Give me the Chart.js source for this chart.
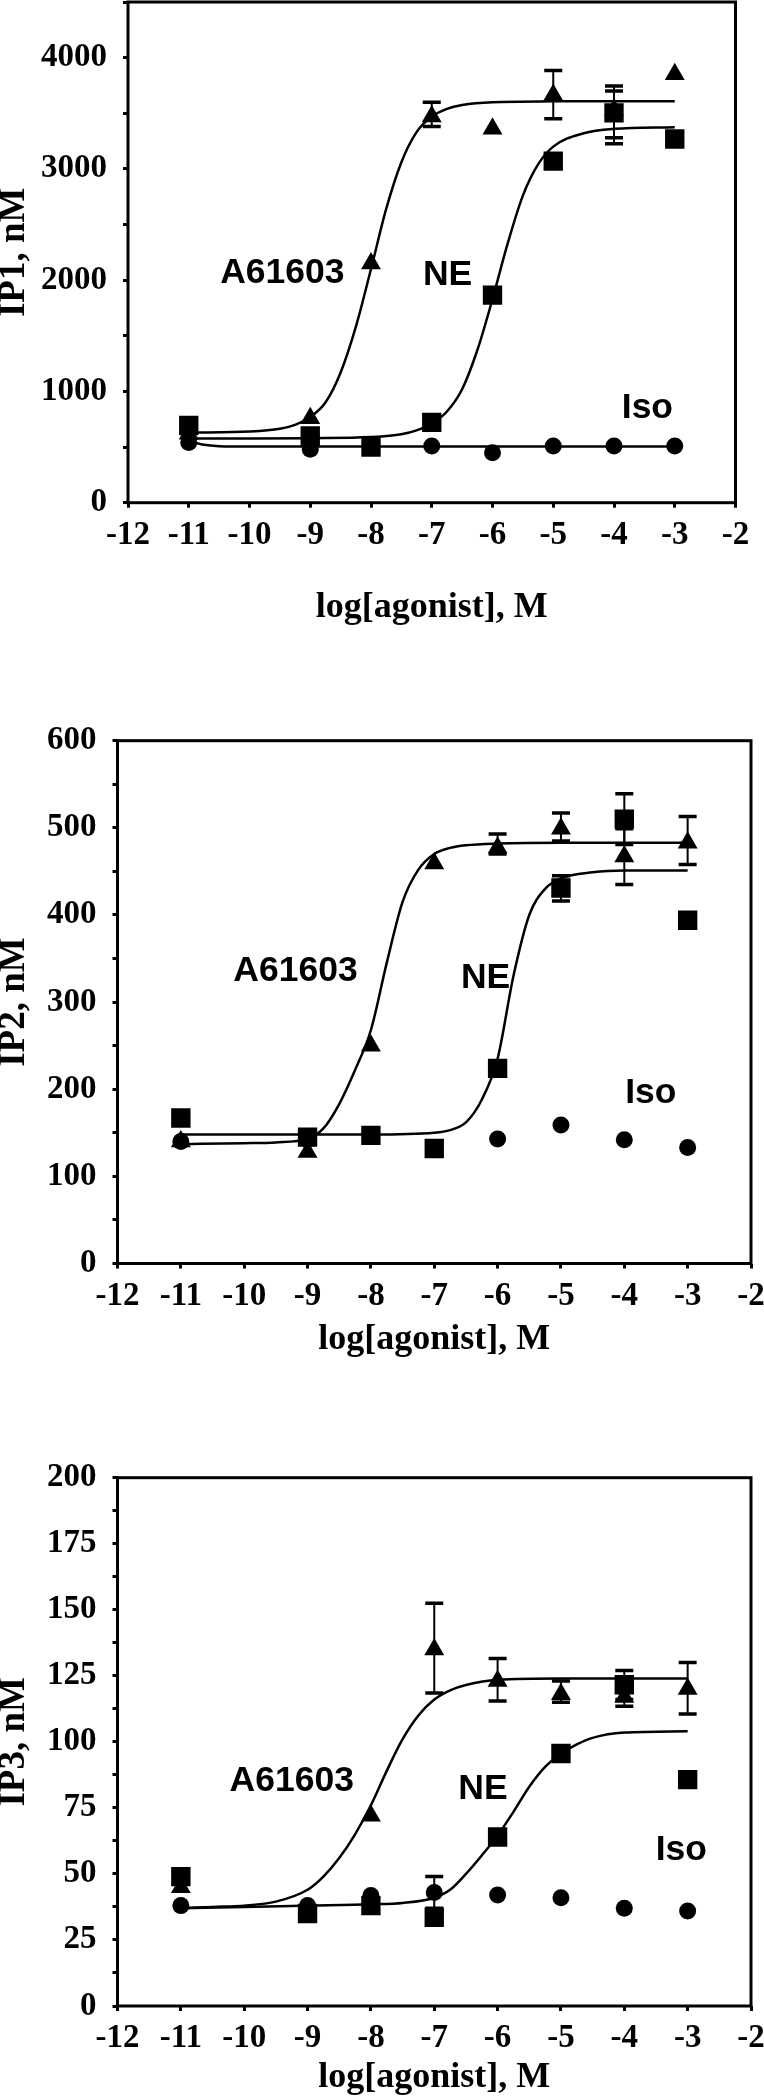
<!DOCTYPE html>
<html>
<head>
<meta charset="utf-8">
<script src="https://cdn.jsdelivr.net/npm/chart.js@4.4.0/dist/chart.umd.min.js"></script>
<style>
  html, body { margin: 0; padding: 0; background: #fff; }
  body { width: 764px; height: 2099px; position: relative; overflow: hidden; }
  .panel { position: absolute; left: 0; width: 764px; }
</style>
</head>
<body>
<div class="panel" style="top:0;height:629px"><canvas id="ip1"></canvas></div>
<div class="panel" style="top:700px;height:661px"><canvas id="ip2"></canvas></div>
<div class="panel" style="top:1420px;height:679px"><canvas id="ip3"></canvas></div>
<script>
// log[agonist] where points were measured
var doses = [-11, -9, -8, -7, -6, -5, -4, -3];

// IP1 panel
var ip1A61603 = [620, 760, 2150, 3470, 3360, 3665, 3530, 3850];
var ip1NE = [694, 600, 500, 722, 1866, 3070, 3503, 3269];
var ip1Iso = [542, 481, null, 510, 449, 510, 510, 510];
var ip1A61603Err = [[-7, 3380, 3600], [-5, 3450, 3885], [-4, 3226, 3700]];
var ip1NEErr = [[-4, 3280, 3745]];
var ip1FitAX = [-11, -10, -9.5, -9.25, -9, -8.75, -8.5, -8.25, -8, -7.75, -7.5, -7.25, -7, -6.75, -6.5, -6, -5, -4, -3];
var ip1FitA = [630, 640, 665, 700, 770, 900, 1170, 1580, 2100, 2640, 3060, 3330, 3470, 3540, 3575, 3600, 3607, 3609, 3609];
var ip1FitNEX = [-11, -10, -9, -8, -7.5, -7.25, -7, -6.75, -6.5, -6.25, -6, -5.75, -5.5, -5.25, -5, -4.5, -4, -3];
var ip1FitNE = [578, 578, 580, 590, 615, 650, 710, 820, 1020, 1370, 1830, 2330, 2760, 3040, 3200, 3320, 3360, 3375];
var ip1FitIsoX = [-11, -10.75, -10.5, -10, -3];
var ip1FitIso = [555, 520, 508, 505, 505];

// IP2 panel
var ip2A61603 = [140, 128, 250, 459, 477, 499, 467, 483];
var ip2NE = [167, 145, 147, 132, 224, 431, 510, 394];
var ip2Iso = [140, 142, null, null, 143, 159, 142, 133];
var ip2A61603Err = [[-6, 470, 493], [-5, 485, 517], [-4, 435, 499], [-3, 458, 513]];
var ip2NEErr = [[-5, 416, 445], [-4, 481, 539]];
var ip2FitAX = [-11, -10, -9.5, -9, -8.75, -8.5, -8.25, -8, -7.75, -7.5, -7.25, -7, -6.75, -6.5, -6, -5, -3];
var ip2FitA = [137, 138, 139, 143, 155, 183, 222, 268, 345, 415, 452, 470, 477, 480, 482, 483, 483];
var ip2FitNEX = [-11, -9, -8, -7, -6.75, -6.5, -6.25, -6, -5.75, -5.5, -5.25, -5, -4.5, -4, -3];
var ip2FitNE = [148, 148, 148, 150, 153, 162, 188, 235, 330, 400, 430, 442, 449, 451, 451];

// IP3 panel
var ip3A61603 = [45, 37, 72, 135, 123, 118, 117, 120];
var ip3NE = [49, 35, 38, 33.6, 64, 95.6, 121.6, 85.7];
var ip3Iso = [38, 38, 41.8, 43, 42, 41, 37, 36];
var ip3A61603Err = [[-7, 118.5, 152.5], [-6, 115.5, 131.6], [-5, 115, 123], [-4, 113.5, 122], [-3, 110.5, 130]];
var ip3NEErr = [[-4, 116, 127]];
var ip3IsoErr = [[-7, 37, 49]];
var ip3FitAX = [-11, -10.5, -10, -9.5, -9, -8.75, -8.5, -8.25, -8, -7.75, -7.5, -7.25, -7, -6.75, -6.5, -6, -5, -4, -3];
var ip3FitA = [37, 37.5, 38, 39.5, 44, 49, 56, 65, 76, 89, 101, 110, 116, 119.5, 121.5, 123.5, 124, 124, 124];
var ip3FitNEX = [-11, -10, -9, -8, -7.5, -7, -6.75, -6.5, -6.25, -6, -5.75, -5.5, -5.25, -5, -4.75, -4.5, -4, -3];
var ip3FitNE = [37, 37.5, 38, 38.5, 39, 41, 44, 50, 57, 64.5, 73.5, 83, 90.5, 95.5, 99, 101.5, 103.5, 104];

function pairs(xs, ys) {
  var out = [];
  for (var i = 0; i < xs.length; i++) {
    if (ys[i] !== null) out.push({x: xs[i], y: ys[i]});
  }
  return out;
}

function marks(values, style, r) {
  return {
    data: pairs(doses, values),
    pointStyle: style,
    pointRadius: r,
    pointHoverRadius: r,
    pointBackgroundColor: '#000',
    pointBorderWidth: 0,
    showLine: false
  };
}

function curve(xs, ys) {
  return {
    data: pairs(xs, ys),
    showLine: true,
    borderColor: '#000',
    borderWidth: 2.5,
    pointRadius: 0,
    cubicInterpolationMode: 'monotone'
  };
}

var errorBars = {
  id: 'errorBars',
  beforeDatasetsDraw: function(chart, args, opts) {
    var ctx = chart.ctx, xs = chart.scales.x, ys = chart.scales.y;
    ctx.save();
    ctx.strokeStyle = '#000';
    (opts.bars || []).forEach(function(b) {
      var px = xs.getPixelForValue(b[0]);
      var lo = ys.getPixelForValue(b[1]);
      var hi = ys.getPixelForValue(b[2]);
      ctx.lineWidth = 2;
      ctx.beginPath();
      ctx.moveTo(px, lo);
      ctx.lineTo(px, hi);
      ctx.stroke();
      ctx.lineWidth = 3.5;
      ctx.beginPath();
      ctx.moveTo(px - 9, lo); ctx.lineTo(px + 9, lo);
      ctx.moveTo(px - 9, hi); ctx.lineTo(px + 9, hi);
      ctx.stroke();
    });
    ctx.restore();
  }
};

var frameAndLabels = {
  id: 'frameAndLabels',
  afterDatasetsDraw: function(chart, args, opts) {
    var ctx = chart.ctx, a = chart.chartArea;
    var xs = chart.scales.x, ys = chart.scales.y;
    ctx.save();
    ctx.strokeStyle = '#000';
    ctx.lineWidth = 3;
    ctx.strokeRect(a.left, a.top, a.right - a.left, a.bottom - a.top);
    ctx.fillStyle = '#000';
    ctx.font = 'bold 35.5px "Liberation Sans", Arial, sans-serif';
    ctx.textAlign = 'center';
    ctx.textBaseline = 'middle';
    (opts.labels || []).forEach(function(l) {
      ctx.fillText(l[0], xs.getPixelForValue(l[1]), ys.getPixelForValue(l[2]));
    });
    ctx.restore();
  }
};

var serif = '"Liberation Serif", "Times New Roman", serif';
var tickFont = {family: serif, size: 33, weight: 'bold'};

function makeChart(id, p) {
  var datasets = [
    marks(p.a, 'triangle', 11.5),
    marks(p.ne, 'rect', 13.7),
    marks(p.iso, 'circle', 8.5)
  ];
  p.fits.forEach(function(f) { datasets.push(curve(f[0], f[1])); });

  return new Chart(document.getElementById(id), {
    type: 'scatter',
    data: {datasets: datasets},
    options: {
      responsive: true,
      maintainAspectRatio: false,
      animation: false,
      events: [],
      layout: {autoPadding: false, padding: {left: 0, top: p.padTop, right: p.padRight, bottom: 0}},
      plugins: {
        legend: {display: false},
        tooltip: {enabled: false},
        errorBars: {bars: p.errs},
        frameAndLabels: {labels: p.labels}
      },
      scales: {
        x: {
          type: 'linear',
          min: -12,
          max: -2,
          afterFit: function(s) {
            s.height = p.xHeight;
            s.paddingLeft = 0;
            s.paddingRight = 0;
          },
          border: {display: false},
          grid: {drawOnChartArea: false, drawTicks: true, tickLength: 5, tickWidth: 3, tickColor: '#000'},
          ticks: {
            stepSize: 1,
            autoSkip: false,
            maxRotation: 0,
            padding: 8,
            color: '#000',
            font: tickFont,
            callback: function(v) { return String(v); }
          },
          title: {display: true, text: 'log[agonist], M', color: '#000', font: {family: serif, size: 36, weight: 'bold'}, padding: 0}
        },
        y: {
          min: 0,
          max: p.yMax,
          afterFit: function(s) {
            s.width = p.yWidth;
            s.paddingTop = 0;
            s.paddingBottom = 0;
          },
          border: {display: false},
          grid: {drawOnChartArea: false, drawTicks: true, tickLength: 5, tickWidth: 3, tickColor: '#000'},
          ticks: {
            stepSize: p.yStep,
            autoSkip: false,
            padding: 16,
            color: '#000',
            font: tickFont,
            callback: function(v) {
              var k = v / p.yLabelStep;
              return Math.abs(k - Math.round(k)) < 1e-6 ? String(v) : '';
            }
          },
          title: {display: true, text: p.yTitle, color: '#000', font: {family: serif, size: 37, weight: 'bold', lineHeight: 0.8}, padding: 0}
        }
      }
    },
    plugins: [errorBars, frameAndLabels]
  });
}

window.onload = function() {
  makeChart('ip1', {
    a: ip1A61603, ne: ip1NE, iso: ip1Iso,
    fits: [[ip1FitAX, ip1FitA], [ip1FitNEX, ip1FitNE], [ip1FitIsoX, ip1FitIso]],
    errs: ip1A61603Err.concat(ip1NEErr),
    labels: [['A61603', -9.46, 2066], ['NE', -6.74, 2048], ['Iso', -3.45, 846]],
    yMax: 4500, yStep: 500, yLabelStep: 1000, yTitle: 'IP1, nM',
    padTop: 2, padRight: 28.5, yWidth: 128, xHeight: 126.3
  });
  makeChart('ip2', {
    a: ip2A61603, ne: ip2NE, iso: ip2Iso,
    fits: [[ip2FitAX, ip2FitA], [ip2FitNEX, ip2FitNE]],
    errs: ip2A61603Err.concat(ip2NEErr),
    labels: [['A61603', -9.19, 335], ['NE', -6.19, 327], ['Iso', -3.58, 196]],
    yMax: 600, yStep: 50, yLabelStep: 100, yTitle: 'IP2, nM',
    padTop: 40.7, padRight: 13, yWidth: 117.5, xHeight: 97.5
  });
  makeChart('ip3', {
    a: ip3A61603, ne: ip3NE, iso: ip3Iso,
    fits: [[ip3FitAX, ip3FitA], [ip3FitNEX, ip3FitNE]],
    errs: ip3A61603Err.concat(ip3NEErr, ip3IsoErr),
    labels: [['A61603', -9.25, 85], ['NE', -6.23, 82], ['Iso', -3.1, 59]],
    yMax: 200, yStep: 12.5, yLabelStep: 25, yTitle: 'IP3, nM',
    padTop: 57.7, padRight: 13, yWidth: 117.5, xHeight: 93
  });
};
</script>
</body>
</html>
